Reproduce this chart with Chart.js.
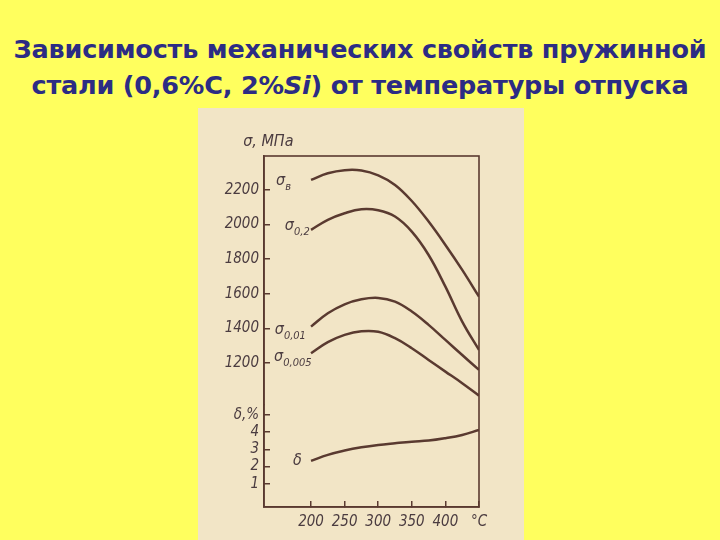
<!DOCTYPE html>
<html>
<head>
<meta charset="utf-8">
<script src="https://cdn.jsdelivr.net/npm/chart.js@4/dist/chart.umd.min.js"></script>
<style>
  html, body { margin: 0; padding: 0; }
  body { width: 720px; height: 540px; background: #ffff5e; position: relative; overflow: hidden; }
  #title {
    position: absolute; left: 0; top: 31px; width: 720px; text-align: center;
    font: bold 25.5px "DejaVu Sans", sans-serif; line-height: 36px; color: #2c2c84;
    letter-spacing: -0.2px;
  }
  #box { position: absolute; left: 198px; top: 108px; width: 326px; height: 432px; background: #f2e5c6; }
</style>
</head>
<body>
<div id="title">Зависимость механических свойств пружинной<br>стали (0,6%С, 2%<i>Si</i>) от температуры отпуска</div>
<div id="box"><canvas id="chart" width="326" height="432"></canvas></div>
<script>
const temps = [200, 225, 250, 275, 300, 325, 350, 375, 400, 425, 450];
const sigmaB = [2258, 2296, 2314, 2312, 2284, 2229, 2136, 2017, 1882, 1738, 1583];
const sigma02 = [1969, 2027, 2065, 2088, 2082, 2046, 1959, 1824, 1641, 1439, 1275];
const sigma001 = [1410, 1487, 1539, 1568, 1576, 1554, 1497, 1420, 1333, 1246, 1160];
const sigma0005 = [1256, 1320, 1362, 1383, 1380, 1343, 1285, 1217, 1150, 1083, 1011];
const delta = [2.33, 2.68, 2.93, 3.12, 3.26, 3.36, 3.45, 3.51, 3.65, 3.84, 4.13];

const xTicks = [200, 250, 300, 350, 400, 450];
const mpaTicks = [1200, 1400, 1600, 1800, 2000, 2200];
const deltaTicks = [1, 2, 3, 4, 5];

// curve labels: [main, subscript, temp, value, axis]
const curveLabels = [
  ["σ", "в", 148, 2251, "y"],
  ["σ", "0,2", 161, 1991, "y"],
  ["σ", "0,01", 146, 1390, "y"],
  ["σ", "0,005", 145, 1234, "y"],
  ["δ", "", 173, 2.32, "d"],
  ["σ, МПа", "", 99, 2477, "y"],
];

const ink = "#5a3a30";
const textInk = "#4b3c40";
const tickFont = { family: "DejaVu Sans Condensed", style: "italic", size: 15 };

function series(vals, axis) {
  return {
    data: temps.map((t, i) => ({ x: t, y: vals[i] })),
    yAxisID: axis,
    borderColor: ink,
    borderWidth: 2.5,
    pointRadius: 0,
    fill: false,
    tension: 0.4,
  };
}

const frame = {
  id: "frame",
  afterDraw(c) {
    const a = c.chartArea, ctx = c.ctx;
    ctx.save();
    ctx.strokeStyle = ink;
    ctx.lineWidth = 1.6;
    ctx.strokeRect(a.left, a.top, a.right - a.left, a.bottom - a.top);
    ctx.fillStyle = textInk;
    ctx.textBaseline = "middle";
    for (const [main, sub, t, v, axis] of curveLabels) {
      const px = c.scales.x.getPixelForValue(t);
      const py = c.scales[axis].getPixelForValue(v);
      ctx.font = "italic 16px 'DejaVu Sans Condensed'";
      ctx.fillText(main, px, py);
      if (sub) {
        const w = ctx.measureText(main).width;
        ctx.font = "italic 11px 'DejaVu Sans Condensed'";
        ctx.fillText(sub, px + w, py + 6);
      }
    }
    ctx.restore();
  },
};

new Chart(document.getElementById("chart"), {
  type: "line",
  data: {
    datasets: [
      series(sigmaB, "y"),
      series(sigma02, "y"),
      series(sigma001, "y"),
      series(sigma0005, "y"),
      series(delta, "d"),
    ],
  },
  options: {
    responsive: false,
    animation: false,
    layout: { padding: { top: 48, right: 45, left: 0, bottom: 0 } },
    plugins: { legend: { display: false }, tooltip: { enabled: false } },
    scales: {
      x: {
        type: "linear",
        min: 130,
        max: 450,
        afterBuildTicks: (s) => { s.ticks = xTicks.map((v) => ({ value: v })); },
        afterFit: (s) => { s.height = 33; },
        ticks: { color: textInk, font: tickFont, padding: 12, maxRotation: 0, autoSkip: false,
          callback: (v) => (v === 450 ? "°C" : String(v)) },
        grid: { drawOnChartArea: false, tickLength: -6, color: ink, lineWidth: 1.5 },
        border: { color: ink, width: 1.6 },
      },
      y: {
        type: "linear",
        position: "left",
        stack: "left",
        stackWeight: 249,
        weight: 2,
        min: 957,
        max: 2396,
        afterBuildTicks: (s) => { s.ticks = mpaTicks.map((v) => ({ value: v })); },
        afterFit: (s) => { s.width = 66; },
        ticks: { color: textInk, font: tickFont, padding: 11, autoSkip: false,
          callback: (v) => String(v) },
        grid: { drawOnChartArea: false, tickLength: -6, color: ink, lineWidth: 1.5 },
        border: { color: ink, width: 1.6 },
      },
      d: {
        type: "linear",
        position: "left",
        stack: "left",
        stackWeight: 102,
        weight: 1,
        min: -0.35,
        max: 5.58,
        afterBuildTicks: (s) => { s.ticks = deltaTicks.map((v) => ({ value: v })); },
        afterFit: (s) => { s.width = 66; },
        ticks: { color: textInk, font: tickFont, padding: 11, autoSkip: false,
          callback: (v) => (v === 5 ? "δ,%" : String(v)) },
        grid: { drawOnChartArea: false, tickLength: -6, color: ink, lineWidth: 1.5 },
        border: { color: ink, width: 1.6 },
      },
    },
  },
  plugins: [frame],
});
</script>
</body>
</html>
